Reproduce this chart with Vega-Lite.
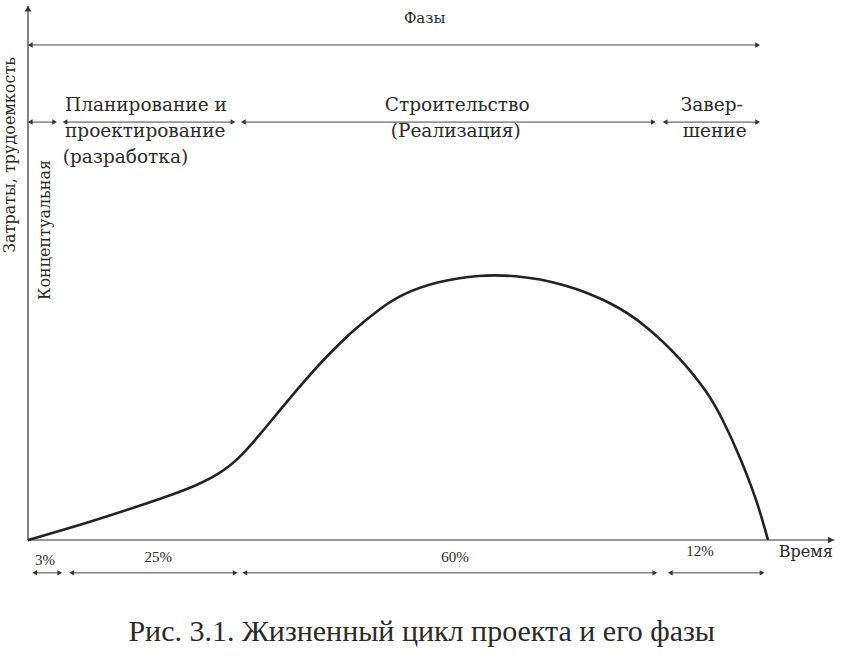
{
  "$schema": "https://vega.github.io/schema/vega-lite/v6.json",
  "width": 856,
  "height": 656,
  "autosize": {"type": "fit", "contains": "padding"},
  "padding": 0,
  "background": "white",
  "config": {"view": {"stroke": null}},
  "datasets": {
    "curve": [
      {"t": 0, "c": 0}, {"t": 8.0, "c": 6.4}, {"t": 16.9, "c": 14.6}, {"t": 21.5, "c": 19.0},
      {"t": 25.9, "c": 24.8}, {"t": 28.6, "c": 31.0}, {"t": 31.4, "c": 40.0}, {"t": 34.1, "c": 49.2},
      {"t": 37.2, "c": 59.6}, {"t": 40.4, "c": 69.5}, {"t": 43.9, "c": 79.0}, {"t": 47.6, "c": 87.5},
      {"t": 50.7, "c": 93.0}, {"t": 55.3, "c": 97.6}, {"t": 61.1, "c": 100}, {"t": 65.5, "c": 100},
      {"t": 72.3, "c": 97.0}, {"t": 79.1, "c": 89.4}, {"t": 83.6, "c": 80.8}, {"t": 88.1, "c": 68.8},
      {"t": 91.8, "c": 56.0}, {"t": 93.9, "c": 45.5}, {"t": 96.2, "c": 31.5}, {"t": 98.5, "c": 15.0},
      {"t": 100, "c": 0}
    ],
    "segments": [
      {"row": "phases", "x1": 0.3, "x2": 98.6, "y": 186.8},
      {"row": "stages", "x1": 0.3, "x2": 3.6, "y": 157.7},
      {"row": "stages", "x1": 5.0, "x2": 27.7, "y": 157.7},
      {"row": "stages", "x1": 29.1, "x2": 84.5, "y": 157.7},
      {"row": "stages", "x1": 86.1, "x2": 98.6, "y": 157.7},
      {"row": "shares", "x1": 0.9, "x2": 4.3, "y": -12.4},
      {"row": "shares", "x1": 5.9, "x2": 28.0, "y": -12.4},
      {"row": "shares", "x1": 29.3, "x2": 84.7, "y": -12.4},
      {"row": "shares", "x1": 86.8, "x2": 99.2, "y": -12.4}
    ]
  },
  "layer": [
    {
      "data": {"values": [{"x1": 0, "x2": 0, "y1": 0, "y2": 201.5}, {"x1": 0, "x2": 109.0, "y1": 0, "y2": 0}]},
      "mark": {"type": "rule", "color": "#333", "strokeWidth": 1.2},
      "encoding": {
        "x": {"field": "x1", "type": "quantitative", "scale": {"domain": [-3.784, 111.89], "nice": false, "zero": false}, "axis": null},
        "x2": {"field": "x2"},
        "y": {"field": "y1", "type": "quantitative", "scale": {"domain": [-43.77, 203.77], "nice": false, "zero": false}, "axis": null},
        "y2": {"field": "y2"}
      }
    },
    {
      "data": {"values": [{"x": 0, "y": 200.5, "dir": "triangle-up"}, {"x": 108.5, "y": 0, "dir": "triangle-right"}]},
      "mark": {"type": "point", "filled": true, "color": "#333", "size": 45, "opacity": 1},
      "encoding": {
        "x": {"field": "x", "type": "quantitative"},
        "y": {"field": "y", "type": "quantitative"},
        "shape": {"field": "dir", "type": "nominal", "scale": null, "legend": null}
      }
    },
    {
      "data": {"name": "segments"},
      "mark": {"type": "rule", "color": "#444", "strokeWidth": 1},
      "encoding": {
        "x": {"field": "x1", "type": "quantitative"},
        "x2": {"field": "x2"},
        "y": {"field": "y", "type": "quantitative"}
      }
    },
    {
      "data": {"name": "segments"},
      "transform": [{"fold": ["x1", "x2"], "as": ["end", "pos"]}],
      "mark": {"type": "point", "filled": true, "color": "#333", "size": 30, "opacity": 1},
      "encoding": {
        "x": {"field": "pos", "type": "quantitative"},
        "y": {"field": "y", "type": "quantitative"},
        "shape": {"field": "end", "type": "nominal", "scale": {"domain": ["x1", "x2"], "range": ["triangle-left", "triangle-right"]}, "legend": null}
      }
    },
    {
      "data": {"name": "curve"},
      "mark": {"type": "line", "color": "#222", "strokeWidth": 2.6, "interpolate": "basis"},
      "encoding": {
        "x": {"field": "t", "type": "quantitative"},
        "y": {"field": "c", "type": "quantitative"}
      }
    },
    {
      "data": {"values": [
        {"x": 5.0, "y": 164.2, "label": "Планирование и"},
        {"x": 5.0, "y": 154.3, "label": "проектирование"},
        {"x": 4.7, "y": 144.5, "label": "(разработка)"}
      ]},
      "mark": {"type": "text", "font": "DejaVu Serif", "color": "#2a2a2a", "fontSize": 18.5, "align": "left", "baseline": "middle"},
      "encoding": {
        "x": {"field": "x", "type": "quantitative"},
        "y": {"field": "y", "type": "quantitative"},
        "text": {"field": "label"}
      }
    },
    {
      "data": {"values": [
        {"x": 58.0, "y": 164.2, "label": "Строительство"},
        {"x": 57.8, "y": 154.3, "label": "(Реализация)"},
        {"x": 92.4, "y": 164.2, "label": "Завер-"},
        {"x": 92.8, "y": 154.3, "label": "шение"}
      ]},
      "mark": {"type": "text", "font": "DejaVu Serif", "color": "#2a2a2a", "fontSize": 18.5, "align": "center", "baseline": "middle"},
      "encoding": {
        "x": {"field": "x", "type": "quantitative"},
        "y": {"field": "y", "type": "quantitative"},
        "text": {"field": "label"}
      }
    },
    {
      "data": {"values": [{"x": 53.6, "y": 197.0, "label": "Фазы"}]},
      "mark": {"type": "text", "font": "DejaVu Serif", "color": "#2a2a2a", "fontSize": 15, "align": "center", "baseline": "middle"},
      "encoding": {
        "x": {"field": "x", "type": "quantitative"},
        "y": {"field": "y", "type": "quantitative"},
        "text": {"field": "label"}
      }
    },
    {
      "data": {"values": [
        {"x": -2.43, "y": 145.3, "label": "Затраты, трудоемкость"},
        {"x": 2.3, "y": 117.0, "label": "Концептуальная"}
      ]},
      "mark": {"type": "text", "font": "DejaVu Serif", "color": "#2a2a2a", "fontSize": 16, "align": "center", "baseline": "middle", "angle": 270},
      "encoding": {
        "x": {"field": "x", "type": "quantitative"},
        "y": {"field": "y", "type": "quantitative"},
        "text": {"field": "label"}
      }
    },
    {
      "data": {"values": [
        {"x": 2.3, "y": -7.5, "label": "3%"},
        {"x": 17.6, "y": -6.4, "label": "25%"},
        {"x": 57.7, "y": -6.4, "label": "60%"},
        {"x": 90.8, "y": -4.2, "label": "12%"}
      ]},
      "mark": {"type": "text", "font": "Liberation Serif", "color": "#2a2a2a", "fontSize": 15, "align": "center", "baseline": "middle"},
      "encoding": {
        "x": {"field": "x", "type": "quantitative"},
        "y": {"field": "y", "type": "quantitative"},
        "text": {"field": "label"}
      }
    },
    {
      "data": {"values": [{"x": 105.1, "y": -4.5, "label": "Время"}]},
      "mark": {"type": "text", "font": "DejaVu Serif", "color": "#2a2a2a", "fontSize": 16, "align": "center", "baseline": "middle"},
      "encoding": {
        "x": {"field": "x", "type": "quantitative"},
        "y": {"field": "y", "type": "quantitative"},
        "text": {"field": "label"}
      }
    },
    {
      "data": {"values": [{"x": 53.2, "y": -34.7, "label": "Рис. 3.1. Жизненный цикл проекта и его фазы"}]},
      "mark": {"type": "text", "font": "Liberation Serif", "color": "#2a2a2a", "fontSize": 30, "align": "center", "baseline": "middle"},
      "encoding": {
        "x": {"field": "x", "type": "quantitative"},
        "y": {"field": "y", "type": "quantitative"},
        "text": {"field": "label"}
      }
    }
  ]
}
